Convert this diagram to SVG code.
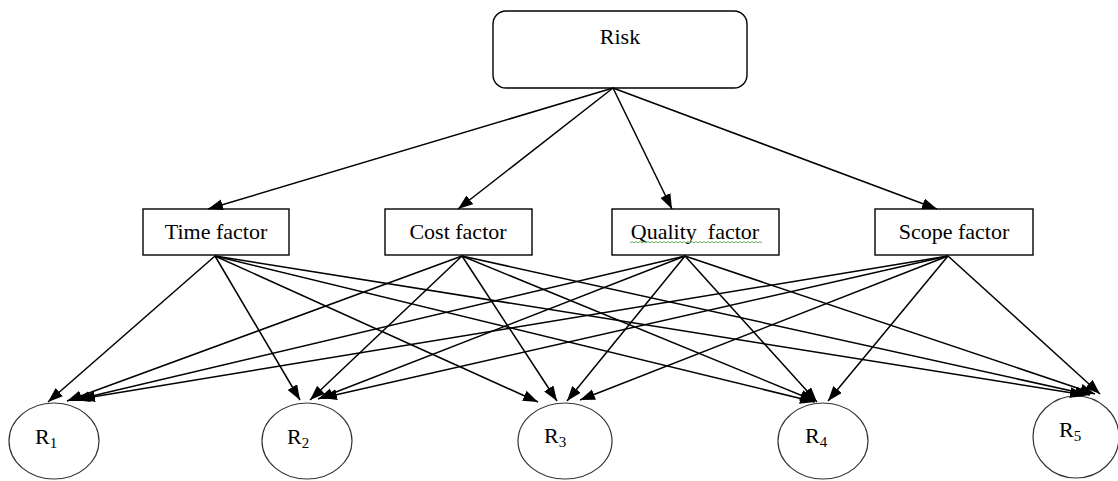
<svg xmlns="http://www.w3.org/2000/svg" width="1118" height="481" viewBox="0 0 1118 481">
<style>
.box{fill:#fff;stroke:#000;stroke-width:1.4}
.ell{fill:#fff;stroke:#333;stroke-width:1.2}
.t{font-family:"Liberation Serif","Times New Roman",serif;font-size:22px;fill:#000}
.sub{font-size:15px}
.c line{stroke:#000;stroke-width:1.5;marker-end:url(#ah)}
</style>
<defs>
<marker id="ah" markerUnits="userSpaceOnUse" markerWidth="16" markerHeight="12" refX="15" refY="5.5" orient="auto">
<path d="M0,0 L15,5.5 L0,11 z" fill="#000"/>
</marker>
</defs>
<rect width="1118" height="481" fill="#fff"/>
<g id="risk"><rect class="box" x="493" y="11" width="254" height="77" rx="13"/><text class="t" x="620" y="44" text-anchor="middle">Risk</text></g>
<g id="time"><rect class="box" x="143" y="209" width="146" height="46"/><text class="t" x="216" y="239" text-anchor="middle">Time factor</text></g>
<g id="cost"><rect class="box" x="385" y="209" width="147" height="46"/><text class="t" x="458" y="239" text-anchor="middle">Cost factor</text></g>
<g id="quality"><rect class="box" x="612" y="209" width="167" height="46"/><text class="t" x="695" y="239" text-anchor="middle" xml:space="preserve">Quality  factor</text><path d="M630,243 l2,-1.5 2,1.5 2,-1.5 2,1.5 2,-1.5 2,1.5 2,-1.5 2,1.5 2,-1.5 2,1.5 2,-1.5 2,1.5 2,-1.5 2,1.5 2,-1.5 2,1.5 2,-1.5 2,1.5 2,-1.5 2,1.5 2,-1.5 2,1.5 2,-1.5 2,1.5 2,-1.5 2,1.5 2,-1.5 2,1.5 2,-1.5 2,1.5 2,-1.5 2,1.5 2,-1.5 2,1.5 2,-1.5 2,1.5 2,-1.5 2,1.5 2,-1.5 2,1.5 2,-1.5 2,1.5 2,-1.5 2,1.5 2,-1.5 2,1.5 2,-1.5 2,1.5 2,-1.5 2,1.5 2,-1.5 2,1.5 2,-1.5 2,1.5 2,-1.5 2,1.5 2,-1.5 2,1.5 2,-1.5 2,1.5 2,-1.5 2,1.5 2,-1.5 2,1.5 2,-1.5 2,1.5" fill="none" stroke="#3a9a3a" stroke-width="0.8"/></g>
<g id="scope"><rect class="box" x="875" y="209" width="158" height="46"/><text class="t" x="954" y="239" text-anchor="middle">Scope factor</text></g>
<g id="r1"><ellipse class="ell" cx="54" cy="441" rx="45" ry="38"/><text class="t" x="35" y="444">R<tspan class="sub" dy="4">1</tspan></text></g>
<g id="r2"><ellipse class="ell" cx="307" cy="441" rx="45" ry="38"/><text class="t" x="287" y="444">R<tspan class="sub" dy="4">2</tspan></text></g>
<g id="r3"><ellipse class="ell" cx="565" cy="441" rx="47" ry="38"/><text class="t" x="544" y="443">R<tspan class="sub" dy="4">3</tspan></text></g>
<g id="r4"><ellipse class="ell" cx="823" cy="441" rx="45" ry="38"/><text class="t" x="805" y="443">R<tspan class="sub" dy="4">4</tspan></text></g>
<g id="r5"><ellipse class="ell" cx="1076" cy="437" rx="43" ry="41"/><text class="t" x="1059" y="437">R<tspan class="sub" dy="4">5</tspan></text></g>
<g id="connectors" class="c">
<line x1="613" y1="88" x2="208" y2="209"/>
<line x1="613" y1="88" x2="458" y2="209"/>
<line x1="613" y1="88" x2="672" y2="209"/>
<line x1="613" y1="88" x2="937" y2="209"/>
<line x1="215" y1="256" x2="48" y2="402"/>
<line x1="215" y1="256" x2="300" y2="400"/>
<line x1="215" y1="256" x2="538" y2="402"/>
<line x1="215" y1="256" x2="815" y2="402"/>
<line x1="215" y1="256" x2="1085" y2="395"/>
<line x1="462" y1="256" x2="67" y2="401"/>
<line x1="462" y1="256" x2="310" y2="400"/>
<line x1="462" y1="256" x2="557" y2="401"/>
<line x1="462" y1="256" x2="815" y2="401"/>
<line x1="462" y1="256" x2="1090" y2="395"/>
<line x1="685" y1="256" x2="75" y2="400"/>
<line x1="685" y1="256" x2="318" y2="399"/>
<line x1="685" y1="256" x2="567" y2="401"/>
<line x1="685" y1="256" x2="817" y2="402"/>
<line x1="685" y1="256" x2="1095" y2="394"/>
<line x1="948" y1="256" x2="80" y2="399"/>
<line x1="948" y1="256" x2="322" y2="398"/>
<line x1="948" y1="256" x2="580" y2="400"/>
<line x1="948" y1="256" x2="828" y2="401"/>
<line x1="948" y1="256" x2="1100" y2="394"/>
</g>
</svg>
